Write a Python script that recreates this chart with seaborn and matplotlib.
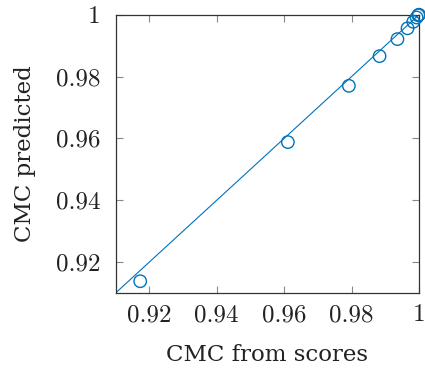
import matplotlib
matplotlib.use("Agg")
import matplotlib.pyplot as plt
import seaborn as sns
import pandas as pd

# Data
cmc_from_scores = [0.9173, 0.9611, 0.9792, 0.9883, 0.9936, 0.9966, 0.9983, 0.9993, 0.9998, 1.0]
cmc_predicted   = [0.9138, 0.9588, 0.9770, 0.9866, 0.9921, 0.9956, 0.9977, 0.9991, 0.9998, 1.0]
identity_x = [0.91, 1.0]
identity_y = [0.91, 1.0]
ticks = [0.92, 0.94, 0.96, 0.98, 1.0]
tick_labels = ["0.92", "0.94", "0.96", "0.98", "1"]

sns.set_style("ticks")
plt.rcParams["font.family"] = ["cmr10", "DejaVu Serif"]
plt.rcParams["axes.formatter.use_mathtext"] = True

blue = "#0072BD"
fig = plt.figure(figsize=(4.25, 3.69), dpi=100)
ax = fig.add_axes([115.6 / 425, 1 - 293 / 369, (419 - 115.6) / 425, (293 - 14.7) / 369])

df = pd.DataFrame({"x": cmc_from_scores, "y": cmc_predicted})
sns.lineplot(x=identity_x, y=identity_y, ax=ax, color=blue, linewidth=0.8)
sns.scatterplot(data=df, x="x", y="y", ax=ax, marker="o", s=80,
                facecolors="none", edgecolor=blue, linewidth=1.0, clip_on=False, zorder=3)

ax.set_xlim(0.91, 1.0)
ax.set_ylim(0.91, 1.0)
ax.set_xticks(ticks)
ax.set_xticklabels(tick_labels)
ax.set_yticks(ticks)
ax.set_yticklabels(tick_labels)
ax.tick_params(direction="in", length=5, width=0.8, color="#888888",
               top=True, right=True, labelsize=18, labelcolor="#222222")
ax.tick_params(axis="x", pad=8)
ax.tick_params(axis="y", pad=11)
for s in ax.spines.values():
    s.set_visible(True)
    s.set_color("#333333")
    s.set_linewidth(0.9)

ax.set_xlabel("CMC from scores", fontsize=16.5, family=["DejaVu Serif"],
              labelpad=13, color="#222222")
ax.set_ylabel("CMC predicted", fontsize=16.5, family=["DejaVu Serif"],
              labelpad=14, color="#222222")

fig.savefig("out.png", dpi=100)
